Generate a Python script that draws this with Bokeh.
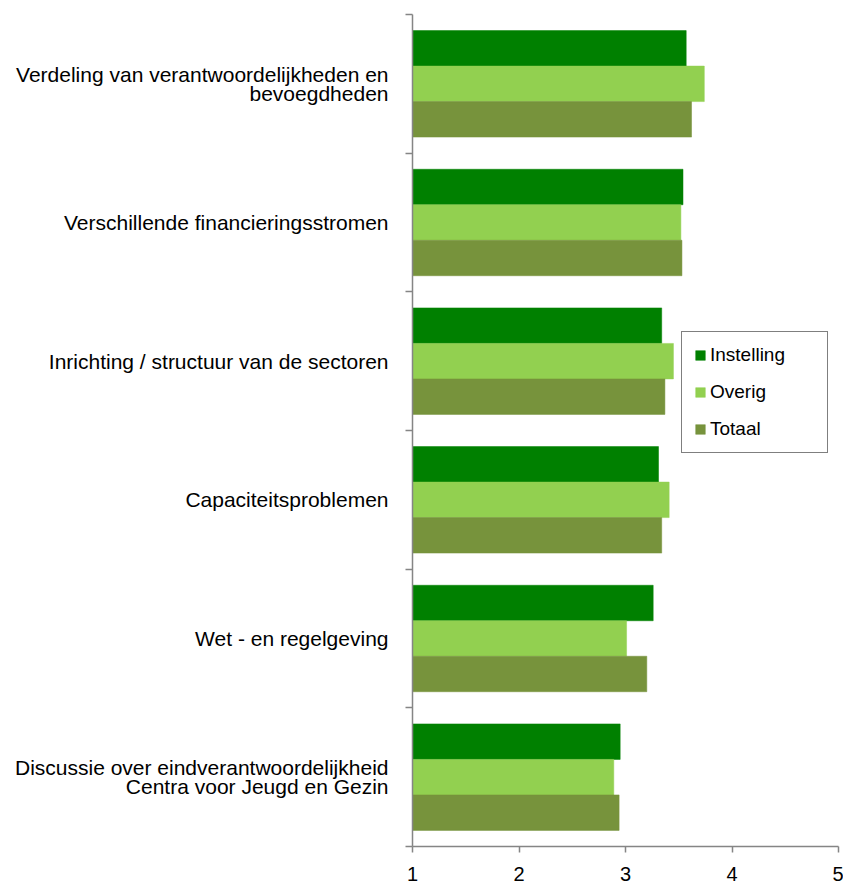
from bokeh.plotting import figure
from bokeh.models import (Range1d, FixedTicker, Legend, LegendItem,
                          ColumnDataSource)
from bokeh.transform import dodge
from bokeh.embed import file_html
from bokeh.resources import INLINE

# ---- data ----
categories = [
    "Verdeling van verantwoordelijkheden en\nbevoegdheden",
    "Verschillende financieringsstromen",
    "Inrichting / structuur van de sectoren",
    "Capaciteitsproblemen",
    "Wet - en regelgeving",
    "Discussie over eindverantwoordelijkheid\nCentra voor Jeugd en Gezin",
]
instelling = [3.57, 3.54, 3.34, 3.31, 3.26, 2.95]
overig = [3.74, 3.52, 3.45, 3.41, 3.01, 2.89]
totaal = [3.62, 3.53, 3.37, 3.34, 3.20, 2.94]
series_names = ["Instelling", "Overig", "Totaal"]
series_colors = ["#008000", "#92D050", "#77933C"]
x_ticks = [1, 2, 3, 4, 5]

FONT = "Liberation Sans"
AXIS_COLOR = "#858585"

n = len(categories)
centers = [i + 0.5 for i in range(n)]
bounds = list(range(n + 1))

src = ColumnDataSource(dict(pos=centers, Instelling=instelling,
                            Overig=overig, Totaal=totaal))

p = figure(frame_width=426, frame_height=832,
           x_range=Range1d(1, 5), y_range=Range1d(n, 0),
           output_backend="svg", toolbar_location=None,
           min_border_left=412, min_border_right=5,
           min_border_top=14, min_border_bottom=30)
p.outline_line_color = None
p.xgrid.visible = False
p.ygrid.visible = False

bar_h = 0.256
offsets = [-bar_h, 0.0, bar_h]
items = []
for name, col, off in zip(series_names, series_colors, offsets):
    r = p.hbar(y=dodge("pos", off, range=p.y_range), left=1, right=name,
               height=bar_h, source=src, fill_color=col, line_color=col,
               line_width=0.5)
    items.append(LegendItem(label=name, renderers=[r]))

# x axis
xa = p.xaxis[0]
xa.ticker = FixedTicker(ticks=x_ticks)
xa.axis_line_color = AXIS_COLOR
xa.axis_line_width = 1.5
xa.major_tick_line_color = AXIS_COLOR
xa.major_tick_line_width = 1.5
xa.major_tick_in = 0
xa.major_tick_out = 6
xa.minor_tick_line_color = None
xa.major_label_standoff = 14
xa.major_label_text_font = FONT
xa.major_label_text_font_size = "20px"
xa.major_label_text_color = "black"

# y axis: category labels at centres, tick marks at boundaries (minor ticks)
ya = p.yaxis[0]
ya.ticker = FixedTicker(ticks=centers, minor_ticks=bounds)
ya.major_label_overrides = {c: lab for c, lab in zip(centers, categories)}
ya.axis_line_color = AXIS_COLOR
ya.axis_line_width = 1.5
ya.major_tick_line_color = None
ya.major_tick_in = 0
ya.major_tick_out = 0
ya.minor_tick_line_color = AXIS_COLOR
ya.minor_tick_line_width = 1.5
ya.minor_tick_in = 0
ya.minor_tick_out = 7
ya.major_label_standoff = 17
ya.major_label_text_font = FONT
ya.major_label_text_font_size = "21px"
ya.major_label_text_color = "black"
ya.major_label_text_line_height = 0.85

legend = Legend(items=items, location=(269, 393), orientation="vertical",
                padding=12, spacing=15, glyph_width=12, glyph_height=12,
                label_height=22, label_standoff=4, label_width=105,
                label_text_font=FONT, label_text_font_size="19px",
                label_text_color="black",
                border_line_color="black", border_line_width=1,
                background_fill_color="white", background_fill_alpha=1)
p.add_layout(legend)

open("out.html", "w").write(file_html(p, INLINE))
